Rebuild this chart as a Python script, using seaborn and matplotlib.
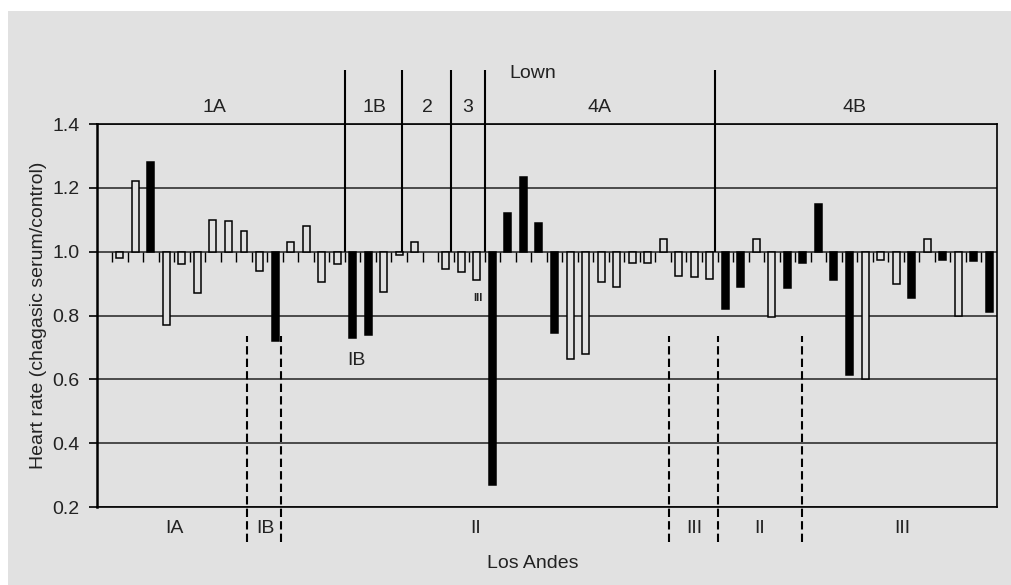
import matplotlib
matplotlib.use("Agg")
import matplotlib.pyplot as plt
import matplotlib.patches as mpatches
import numpy as np
import pandas as pd
import seaborn as sns

# one slot per serum along the x axis (slots 0 and 21 are empty)
SLOTS = [1, 2, 3, 4, 5, 6, 7, 8, 9, 10, 11, 12, 13, 14, 15, 16, 17, 18, 19, 20,
         22, 23, 24, 25, 26, 27, 28, 29, 30, 31, 32, 33, 34, 35, 36, 37, 38, 39,
         40, 41, 42, 43, 44, 45, 46, 47, 48, 49, 50, 51, 52, 53, 54, 55, 56, 57]
RATIOS = [0.98, 1.22, 1.28, 0.77, 0.96, 0.87, 1.10, 1.095, 1.065, 0.94, 0.72, 1.03,
          1.08, 0.905, 0.96, 0.73, 0.74, 0.875, 0.99, 1.03,
          0.945, 0.935, 0.91, 0.27, 1.12, 1.235, 1.09, 0.745, 0.665, 0.68, 0.905,
          0.89, 0.965, 0.965, 1.04, 0.925, 0.92, 0.915,
          0.82, 0.89, 1.04, 0.795, 0.885, 0.965, 1.15, 0.91, 0.615, 0.60, 0.975,
          0.90, 0.855, 1.04, 0.975, 0.80, 0.972, 0.81]
FILLED = [0, 0, 1, 0, 0, 0, 0, 0, 0, 0, 1, 0, 0, 0, 0, 1, 1, 0, 0, 0,
          0, 0, 0, 1, 1, 1, 1, 1, 0, 0, 0, 0, 0, 0, 0, 0, 0, 0,
          1, 1, 0, 0, 1, 1, 1, 1, 1, 0, 0, 0, 1, 0, 1, 0, 1, 1]

Y_TICKS = [0.2, 0.4, 0.6, 0.8, 1.0, 1.2, 1.4]

LOWN_GROUPS = ["1A", "1B", "2", "3", "4A", "4B"]
ANDES_GROUPS = ["IA", "IB", "II", "III", "II", "III"]

# layout of the group annotations (in slot units)
lown_x = [7.1, 17.4, 20.8, 23.4, 31.9, 48.3]
lown_splits = [15.5, 19.2, 22.35, 24.55, 39.35]
andes_x = [4.55, 10.4, 23.9, 38.0, 42.2, 51.4]
andes_splits = [9.2, 11.4, 36.4, 39.55, 44.95]

BG = "#e1e1e1"
INK = "#222222"

sns.set_theme(style="white")
plt.rcParams["font.family"] = ["Liberation Sans", "DejaVu Sans"]

df = pd.DataFrame({
    "slot": SLOTS,
    "ratio": RATIOS,
    "serum": ["filled" if f else "open" for f in FILLED],
})
df["change"] = df["ratio"] - 1.0

fig = plt.figure(figsize=(10.11, 5.85), dpi=100)
fig.patch.set_facecolor("white")
fig.patches.append(mpatches.Rectangle((8 / 1011, 0), 1, (585 - 11) / 585,
                                      transform=fig.transFigure, facecolor=BG,
                                      edgecolor="none", zorder=-10))

ax = fig.add_axes([96.5 / 1011, 1 - 507 / 585, (997 - 96.5) / 1011, (507 - 124) / 585])
ax.set_facecolor(BG)

sns.barplot(data=df, x="slot", y="change", hue="serum",
            palette={"filled": "black", "open": BG},
            native_scale=True, dodge=False, width=0.45, errorbar=None,
            bottom=1.0, edgecolor="black", linewidth=1.1, legend=False,
            zorder=3, ax=ax)

ax.set_xlim(-0.5, 57.5)
ax.set_ylim(0.2, 1.4)
ax.set_xticks([])
ax.set_xlabel("")
ax.set_yticks(Y_TICKS)
ax.set_yticklabels([f"{t:.1f}" for t in Y_TICKS])
ax.yaxis.grid(True, color=INK, linewidth=1.1)
ax.set_axisbelow(True)
ax.tick_params(axis="y", left=True, direction="out", length=6, width=1.2,
               pad=6, labelsize=14, labelcolor=INK, color="black")
for side in ax.spines.values():
    side.set_color("black")
    side.set_linewidth(1.2)
ax.spines["left"].set_linewidth(1.8)
ax.set_ylabel("Heart rate (chagasic serum/control)", fontsize=14,
              color=INK, labelpad=4)

# small ticks on the 1.0 baseline between slots
ax.vlines(np.arange(0.5, 57), 0.967, 1.0, color="black", linewidth=1, zorder=2)

# Lown groups on top
ax.vlines(lown_splits, 1.0, 1.57, color="black", linewidth=1.5, clip_on=False, zorder=4)
for name, x in zip(LOWN_GROUPS, lown_x):
    ax.text(x, 1.453, name, ha="center", va="center", fontsize=14, color=INK)
ax.text(27.6, 1.557, "Lown", ha="center", va="center", fontsize=14,
        color=INK, clip_on=False)

# Los Andes groups below
ax.vlines(andes_splits, 0.09, 0.735, color="black", linewidth=1.5,
          linestyles=(0, (4, 2)), clip_on=False, zorder=4)
for name, x in zip(ANDES_GROUPS, andes_x):
    ax.text(x, 0.134, name, ha="center", va="center", fontsize=14, color=INK,
            clip_on=False)
ax.text(27.6, 0.0245, "Los Andes", ha="center", va="center", fontsize=14,
        color=INK, clip_on=False)

ax.text(16.25, 0.66, "IB", ha="center", va="center", fontsize=14, color=INK)
ax.text(24.08, 0.856, "III", ha="center", va="center", fontsize=8,
        fontweight="bold", color=INK)

fig.savefig("out.png", dpi=100)
